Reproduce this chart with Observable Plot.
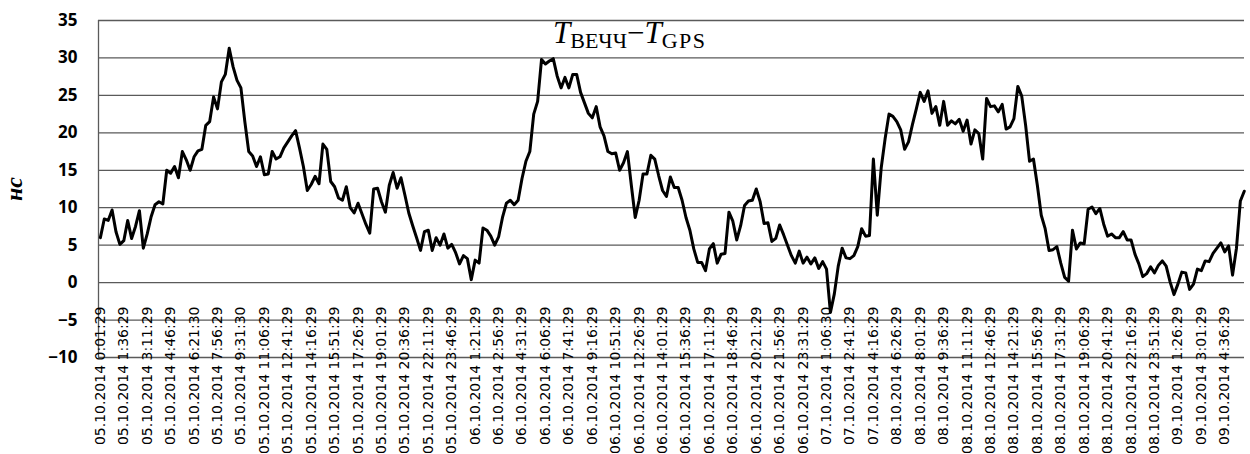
<!DOCTYPE html>
<html>
<head>
<meta charset="utf-8">
<script src="https://cdn.jsdelivr.net/npm/d3@7"></script>
<script src="https://cdn.jsdelivr.net/npm/@observablehq/plot@0.6"></script>
<style>
  html, body { margin: 0; padding: 0; background: #fff; overflow: hidden; }
  #chart { width: 1250px; height: 454px; }
</style>
</head>
<body>
<div id="chart"></div>
<script>
// Category labels on the time axis (one every 95 minutes)
const xLabels = [
  "05.10.2014 0:01:29","05.10.2014 1:36:29","05.10.2014 3:11:29","05.10.2014 4:46:29",
  "05.10.2014 6:21:30","05.10.2014 7:56:29","05.10.2014 9:31:30","05.10.2014 11:06:29",
  "05.10.2014 12:41:29","05.10.2014 14:16:29","05.10.2014 15:51:29","05.10.2014 17:26:29",
  "05.10.2014 19:01:29","05.10.2014 20:36:29","05.10.2014 22:11:29","05.10.2014 23:46:29",
  "06.10.2014 1:21:29","06.10.2014 2:56:29","06.10.2014 4:31:29","06.10.2014 6:06:29",
  "06.10.2014 7:41:29","06.10.2014 9:16:29","06.10.2014 10:51:29","06.10.2014 12:26:29",
  "06.10.2014 14:01:29","06.10.2014 15:36:29","06.10.2014 17:11:29","06.10.2014 18:46:29",
  "06.10.2014 20:21:29","06.10.2014 21:56:29","06.10.2014 23:31:29",
  "07.10.2014 1:06:30","07.10.2014 2:41:29","07.10.2014 4:16:29",
  "08.10.2014 6:26:29","08.10.2014 8:01:29","08.10.2014 9:36:29","08.10.2014 11:11:29",
  "08.10.2014 12:46:29","08.10.2014 14:21:29","08.10.2014 15:56:29","08.10.2014 17:31:29",
  "08.10.2014 19:06:29","08.10.2014 20:41:29","08.10.2014 22:16:29","08.10.2014 23:51:29",
  "09.10.2014 1:26:29","09.10.2014 3:01:29","09.10.2014 4:36:29"
];

// Y axis ticks (ns)
const yTicks = [-10, -5, 0, 5, 10, 15, 20, 25, 30, 35];

// Series T_ВЕЧЧ − T_GPS, ns — sampled 6 times per label interval
const samplesPerLabel = 6;
const diffNs = [
  6, 8.5, 8.3, 9.7, 6.8, 5.1, 5.6, 8.3, 5.9, 7.5,
  9.6, 4.6, 6.5, 8.8, 10.4, 10.8, 10.5, 15, 14.6, 15.5,
  14, 17.5, 16.4, 15, 16.8, 17.6, 17.8, 21, 21.5, 24.8,
  23.2, 26.8, 27.8, 31.3, 28.8, 27, 26, 21.5, 17.5, 16.9,
  15.5, 16.8, 14.4, 14.5, 17.5, 16.5, 16.8, 18, 18.8, 19.6,
  20.3, 18, 15.5, 12.3, 13.1, 14.2, 13.2, 18.5, 17.8, 13.5,
  12.8, 11.3, 11, 12.8, 10, 9.3, 10.6, 9.2, 7.8, 6.6,
  12.5, 12.6, 10.8, 9.4, 13, 14.7, 12.6, 14, 11.7, 9.3,
  7.6, 6, 4.3, 6.8, 7, 4.3, 6, 5, 6.5, 4.6,
  5.1, 4, 2.5, 3.6, 3.2, 0.4, 3, 2.6, 7.3, 7,
  6.2, 5, 6.1, 8.7, 10.6, 11, 10.4, 11, 13.9, 16.2,
  17.5, 22.5, 24.2, 29.8, 29.2, 29.6, 29.9, 27.6, 26, 27.4,
  26, 27.8, 27.8, 25.4, 24, 22.6, 22, 23.5, 20.8, 19.6,
  17.5, 17.2, 17.3, 15, 16, 17.5, 13, 8.7, 11, 14.5,
  14.5, 17, 16.5, 14.3, 12.3, 11.5, 14.1, 12.7, 12.7, 11,
  8.7, 7, 4.5, 2.7, 2.7, 1.6, 4.5, 5.2, 2.6, 3.8,
  3.9, 9.4, 8.2, 5.7, 7.6, 10.3, 10.9, 11, 12.5, 10.8,
  7.9, 8, 5.5, 5.9, 7.7, 6.4, 5, 3.6, 2.6, 4.2,
  2.6, 3.4, 2.5, 3.3, 1.9, 2.8, 1.8, -4, -1.5, 2.2,
  4.6, 3.3, 3.2, 3.6, 4.8, 7.2, 6.2, 6.3, 16.5, 9,
  15.3, 19.2, 22.5, 22.2, 21.5, 20.4, 17.8, 18.8, 21.1, 23.2,
  25.4, 24.2, 25.6, 22.6, 23.5, 21, 24.2, 21, 21.6, 21.2,
  21.8, 20.2, 21.7, 18.5, 20.4, 19.9, 16.5, 24.6, 23.5, 23.6,
  22.8, 23.8, 20.5, 20.8, 21.9, 26.2, 24.9, 21, 16.2, 16.5,
  13, 9, 7.2, 4.3, 4.4, 4.8, 2.6, 0.7, 0.2, 7,
  4.5, 5.3, 5.2, 9.8, 10.1, 9.2, 9.9, 7.8, 6.2, 6.5,
  6, 6, 6.8, 5.7, 5.7, 3.8, 2.5, 0.8, 1.2, 2.1,
  1.3, 2.3, 2.9, 2.2, 0.1, -1.6, -0.2, 1.4, 1.3, -0.9,
  -0.2, 1.8, 1.6, 2.9, 2.8, 3.9, 4.6, 5.3, 4.1, 4.9,
  1, 4.6, 10.9, 12.2
];

const series = diffNs.map((v, i) => ({pos: i / samplesPerLabel, v}));
const labelPos = xLabels.map((d, i) => i);
const xDomain = [-0.08, (diffNs.length - 1) / samplesPerLabel + 0.01];

const chart = Plot.plot({
  width: 1250,
  height: 454,
  marginLeft: 98,
  marginRight: 6,
  marginTop: 20,
  marginBottom: 97,
  style: {background: "#fff", color: "#000", overflow: "hidden"},
  x: {domain: xDomain, axis: null},
  y: {domain: [-10, 35], axis: null},
  marks: [
    Plot.gridY(yTicks, {stroke: "#5a5a5a", strokeOpacity: 1, strokeWidth: 1.3}),
    Plot.ruleX([xDomain[0]], {stroke: "#5a5a5a", strokeWidth: 1.3}),
    Plot.axisY(yTicks, {
      tickSize: 0, tickPadding: 21, fontSize: 17, fontWeight: "bold",
      fontFamily: "Open Sans", label: null
    }),
    Plot.axisX(labelPos, {
      anchor: "bottom", tickSize: 0, tickPadding: 0, tickRotate: -90,
      tickFormat: (i) => xLabels[i], fontSize: 14, fontFamily: "DejaVu Sans",
      dy: -51, label: null
    }),
    Plot.line(series, {x: "pos", y: "v", stroke: "#000", strokeWidth: 3, strokeLinejoin: "round"})
  ]
});

document.getElementById("chart").appendChild(chart);

// Title inside the plot: T_ВЕЧЧ − T_GPS
const svg = d3.select(chart);
const title = svg.append("text")
  .attr("x", 553).attr("y", 43)
  .attr("text-anchor", "start")
  .attr("font-family", "Liberation Serif, Times New Roman, serif")
  .attr("fill", "#000");
title.append("tspan").attr("font-style", "italic").attr("font-size", 31).text("T");
title.append("tspan").attr("font-size", 22).attr("dy", 5).text("ВЕЧЧ");
title.append("tspan").attr("font-size", 31).attr("dy", -5).text("\u2212");
title.append("tspan").attr("font-style", "italic").attr("font-size", 31).text("T");
title.append("tspan").attr("font-size", 22).attr("dy", 5).attr("letter-spacing", 1.5).text("GPS");

// Y-axis unit label
svg.append("text")
  .attr("transform", "translate(22,189) rotate(-90)")
  .attr("text-anchor", "middle")
  .attr("font-family", "Liberation Serif, serif")
  .attr("font-style", "italic")
  .attr("font-weight", "bold")
  .attr("font-size", 24)
  .attr("fill", "#000")
  .text("нс");
</script>
</body>
</html>
